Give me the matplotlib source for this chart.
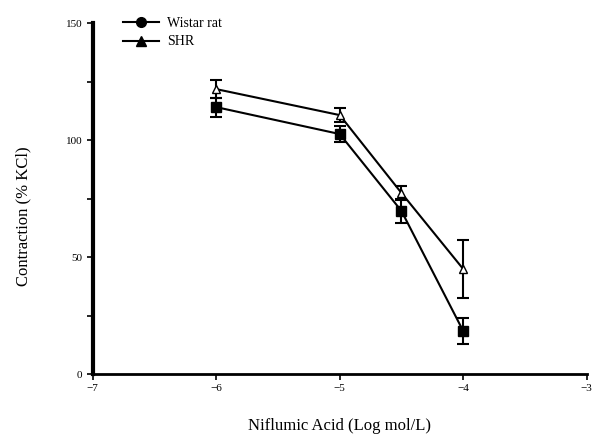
import numpy as np
import matplotlib.pyplot as plt
from matplotlib.lines import Line2D

plt.rcParams['font.family'] = ['Liberation Serif', 'DejaVu Serif']

# log concentration of niflumic acid
conc = [-6, -5, -4.5, -4]
wistar = [114.1, 102.6, 69.7, 18.4]
wistar_sem = [4.0, 3.5, 5.0, 5.5]
shr = [121.8, 110.7, 77.4, 44.9]
shr_sem = [4.0, 3.0, 3.0, 12.4]

x_ticks = [-7, -6, -5, -4, -3]
y_ticks = [0, 50, 100, 150]

fig = plt.figure(figsize=(5.95, 4.37), dpi=100)
ax = fig.add_axes([0.156, 0.144, 0.830, 0.803])

ax.errorbar(conc, wistar, yerr=wistar_sem, color='black', marker='s', markersize=7,
            lw=1.5, capsize=4, elinewidth=1.5, capthick=1.5)
ax.errorbar(conc, shr, yerr=shr_sem, color='black', marker='^', markersize=6,
            mfc='white', lw=1.5, capsize=4, elinewidth=1.5, capthick=1.5)

ax.set_xlim(-7, -3)
ax.set_ylim(0, 150)
ax.set_xticks(x_ticks)
ax.set_yticks(y_ticks)
ax.set_yticks(np.arange(0, 151, 25), minor=True)
ax.tick_params(axis='both', which='both', direction='out', length=4, width=1.2, labelsize=8)

for s in ['top', 'right']:
    ax.spines[s].set_visible(False)
ax.spines['left'].set_linewidth(3)
ax.spines['bottom'].set_linewidth(2)

ax.set_xlabel('Niflumic Acid (Log mol/L)', fontsize=12, labelpad=18)
ax.set_ylabel('Contraction (% KCl)', fontsize=12, labelpad=26)
ax.yaxis.set_label_coords(-0.125, 0.45)

handles = [Line2D([], [], color='black', marker='o', markersize=7, lw=1.5),
           Line2D([], [], color='black', marker='^', markersize=7, lw=1.5)]
fig.legend(handles, ['Wistar rat', 'SHR'], loc='upper left', bbox_to_anchor=(0.185, 0.99),
           frameon=False, fontsize=10, handlelength=2.6, handletextpad=0.6, labelspacing=0.4)

fig.savefig('out.png', dpi=100)
